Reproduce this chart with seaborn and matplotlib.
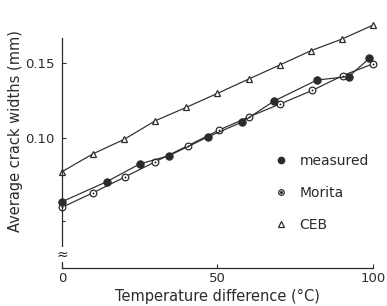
import matplotlib
matplotlib.use("Agg")
import matplotlib.pyplot as plt
from matplotlib.lines import Line2D
from matplotlib.legend_handler import HandlerTuple
import seaborn as sns
import pandas as pd

sns.set_style("ticks")
plt.rcParams['font.family'] = ['DejaVu Sans']

# values
measured_x = [0, 14.4, 25, 34.4, 47, 58, 68.3, 82, 92.2, 98.8]
measured_y = [0.0577, 0.0711, 0.0829, 0.0884, 0.101, 0.111, 0.125, 0.1389, 0.1412, 0.1533]

morita_x = [0, 10, 20.4, 30, 40.4, 50.5, 60.2, 70.1, 80.5, 90.2, 100]
morita_y = [0.054, 0.0637, 0.0744, 0.0844, 0.095, 0.1055, 0.1144, 0.1229, 0.132, 0.1418, 0.1497]

ceb_x = [0, 10, 20, 30, 40, 50, 60, 70, 80, 90, 100]
ceb_y = [0.0777, 0.0897, 0.0993, 0.1117, 0.1207, 0.130, 0.1395, 0.1489, 0.1584, 0.1662, 0.1755]

x_ticks = [0, 50, 100]
x_ticklabels = ["0", "50", "100"]
y_ticks = [0.10, 0.15]
y_ticklabels = ["0.10", "0.15"]

ink = "#2b2b2b"

df_meas = pd.DataFrame({"T": measured_x, "w": measured_y})
df_mor = pd.DataFrame({"T": morita_x, "w": morita_y})
df_ceb = pd.DataFrame({"T": ceb_x, "w": ceb_y})

fig = plt.figure(figsize=(3.87, 3.06), dpi=100)
ax = fig.add_axes([0.160, 0.124, 0.804, 0.816])

sns.lineplot(data=df_ceb, x="T", y="w", ax=ax, color=ink, lw=0.85, marker="^",
             markersize=5, markerfacecolor="white", markeredgecolor=ink,
             markeredgewidth=0.9, clip_on=False, estimator=None)
sns.lineplot(data=df_mor, x="T", y="w", ax=ax, color=ink, lw=0.85, marker="o",
             markersize=4.8, markerfacecolor="white", markeredgecolor=ink,
             markeredgewidth=0.9, clip_on=False, estimator=None)
sns.scatterplot(data=df_mor, x="T", y="w", ax=ax, color=ink, s=2, linewidth=0,
                clip_on=False, zorder=5)
sns.lineplot(data=df_meas, x="T", y="w", ax=ax, color=ink, lw=0.85, marker="o",
             markersize=5.3, markerfacecolor=ink, markeredgecolor=ink,
             clip_on=False, estimator=None)

ax.set_xlim(0, 100)
ax.set_ylim(0.0135, 0.18)
ax.set_xticks(x_ticks)
ax.set_xticklabels(x_ticklabels)
ax.set_yticks(y_ticks)
ax.set_yticklabels(y_ticklabels)
ax.set_yticks([0.045], minor=True)
ax.tick_params(direction="in", length=3, width=0.8, colors=ink, labelsize=9.5, pad=5)
ax.tick_params(axis="x", pad=3)
ax.tick_params(which="minor", direction="in", length=2, width=0.8, colors=ink)

sns.despine(ax=ax)
ax.spines["left"].set_bounds(0.0135, 0.1667)
for s in ["left", "bottom"]:
    ax.spines[s].set_color(ink)
    ax.spines[s].set_linewidth(0.9)

# axis break mark
ax.text(0, 0.0225, "≈", ha="center", va="center", fontsize=10, color=ink,
        bbox=dict(facecolor="white", edgecolor="none", pad=0.2))

ax.set_xlabel("Temperature difference (°C)", fontsize=10.5, color=ink, labelpad=3)
ax.set_ylabel("Average crack widths (mm)", fontsize=10.5, color=ink)
ax.yaxis.set_label_coords(-0.125, 0.55)

mor_ring = Line2D([], [], ls="none", marker="o", markersize=4, markerfacecolor="white",
                  markeredgecolor=ink, markeredgewidth=0.9)
mor_dot = Line2D([], [], ls="none", marker="o", markersize=1.2, color=ink)
handles = [
    Line2D([], [], ls="none", marker="o", markersize=4.5, color=ink),
    (mor_ring, mor_dot),
    Line2D([], [], ls="none", marker="^", markersize=4.2, markerfacecolor="white",
           markeredgecolor=ink, markeredgewidth=0.9),
]
leg = ax.legend(handles, ["measured", "Morita", "CEB"], loc="upper left",
                bbox_to_anchor=(0.647, 0.508), frameon=False, fontsize=10,
                handlelength=0.8, handletextpad=0.9, labelspacing=1.3,
                handler_map={tuple: HandlerTuple(ndivide=1, pad=0)})
for t in leg.get_texts():
    t.set_color(ink)

fig.savefig("out.png", dpi=100)
